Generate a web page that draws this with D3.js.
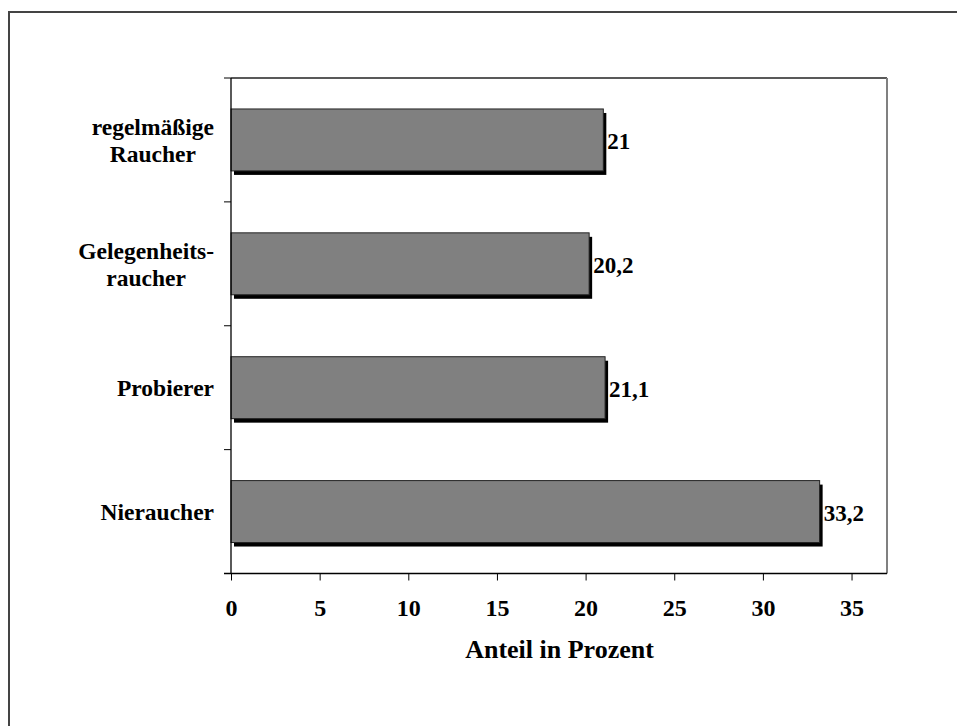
<!DOCTYPE html>
<html><head><meta charset="utf-8">
<script src="https://cdn.jsdelivr.net/npm/d3@7"></script>
<style>body{margin:0;background:#fff}svg{display:block} text{font-family:"Liberation Serif","Times New Roman",Tinos,serif;}</style>
</head><body>
<svg id="c" width="957" height="726"></svg>
<script>
const categories = [["regelmäßige","Raucher"],["Gelegenheits-","raucher"],["Probierer"],["Nieraucher"]];
const values = [21, 20.2, 21.1, 33.2];
const valueLabels = ["21","20,2","21,1","33,2"];
const xTicks = [0,5,10,15,20,25,30,35];
const xTitle = "Anteil in Prozent";

const svg = d3.select("#c");
const L = 231, R = 887, T = 78, B = 573.5;

svg.append("rect").attr("x",9).attr("y",12).attr("width",960).attr("height",730)
  .attr("fill","none").attr("stroke","#444").attr("stroke-width",2);

const x = d3.scaleLinear().domain([0,37]).range([L,R]);
const y = d3.scaleBand().domain(d3.range(categories.length)).range([T,B]).paddingInner(0.5).paddingOuter(0.25);
const yb = d3.scaleBand().domain(d3.range(categories.length)).range([T,B]);

// frame
svg.append("line").attr("x1",L).attr("x2",R).attr("y1",T).attr("y2",T).attr("stroke","#222").attr("stroke-width",1.3);
svg.append("line").attr("x1",R).attr("x2",R).attr("y1",T).attr("y2",B).attr("stroke","#808080").attr("stroke-width",2);

// shadows
svg.selectAll(".sh").data(values).enter().append("rect")
  .attr("x",L+3).attr("y",(d,i)=>y(i)+4).attr("width",d=>x(d)-L).attr("height",y.bandwidth())
  .attr("fill","#000");
// bars
svg.selectAll(".bar").data(values).enter().append("rect")
  .attr("x",L).attr("y",(d,i)=>y(i)).attr("width",d=>x(d)-L).attr("height",y.bandwidth())
  .attr("fill","#808080").attr("stroke","#222").attr("stroke-width",1);

// value labels
svg.selectAll(".vl").data(values).enter().append("text")
  .attr("x",d=>x(d)+4).attr("y",(d,i)=>yb(i)+yb.bandwidth()/2+9)
  .attr("font-weight","bold").attr("font-size",23)
  .text((d,i)=>valueLabels[i]);

// y axis
const yAxisG = svg.append("g");
yAxisG.append("line").attr("x1",L).attr("x2",L).attr("y1",T).attr("y2",B).attr("stroke","#000").attr("stroke-width",1.3);
const bounds = d3.range(categories.length+1).map(i=> i<categories.length ? yb(i) : B);
yAxisG.selectAll(".yt").data(bounds).enter().append("line")
  .attr("x1",L-7).attr("x2",L).attr("y1",d=>d).attr("y2",d=>d).attr("stroke","#000").attr("stroke-width",1);

// category labels
categories.forEach((lines,i)=>{
  const g = svg.append("text").attr("font-weight","bold").attr("font-size",23.5)
    .attr("text-anchor","middle");
  const cy = yb(i)+yb.bandwidth()/2;
  const lh = 27;
  lines.forEach((t,j)=>{
    g.append("tspan").attr("x",0).attr("y", cy + 8.5 + (j-(lines.length-1)/2)*lh).text(t);
  });
  const w = g.node().getBBox().width;
  g.selectAll("tspan").attr("x",214 - w/2);
});

// x axis
const xAxis = d3.axisBottom(x).tickValues(xTicks).tickSize(7).tickSizeOuter(0).tickPadding(18);
const xg = svg.append("g").attr("transform",`translate(0,${B})`).call(xAxis);
xg.attr("font-family",null);
xg.select(".domain").attr("stroke","#000").attr("stroke-width",1.3).attr("d",`M${L-7},0H${R}`);
xg.selectAll(".tick line").attr("stroke","#000");
xg.selectAll(".tick text").attr("font-weight","bold").attr("font-size",24).attr("fill","#000");

svg.append("text").attr("x",(462+657)/2).attr("y",658).attr("text-anchor","middle")
  .attr("font-weight","bold").attr("font-size",26).text(xTitle);
</script>
</body></html>
